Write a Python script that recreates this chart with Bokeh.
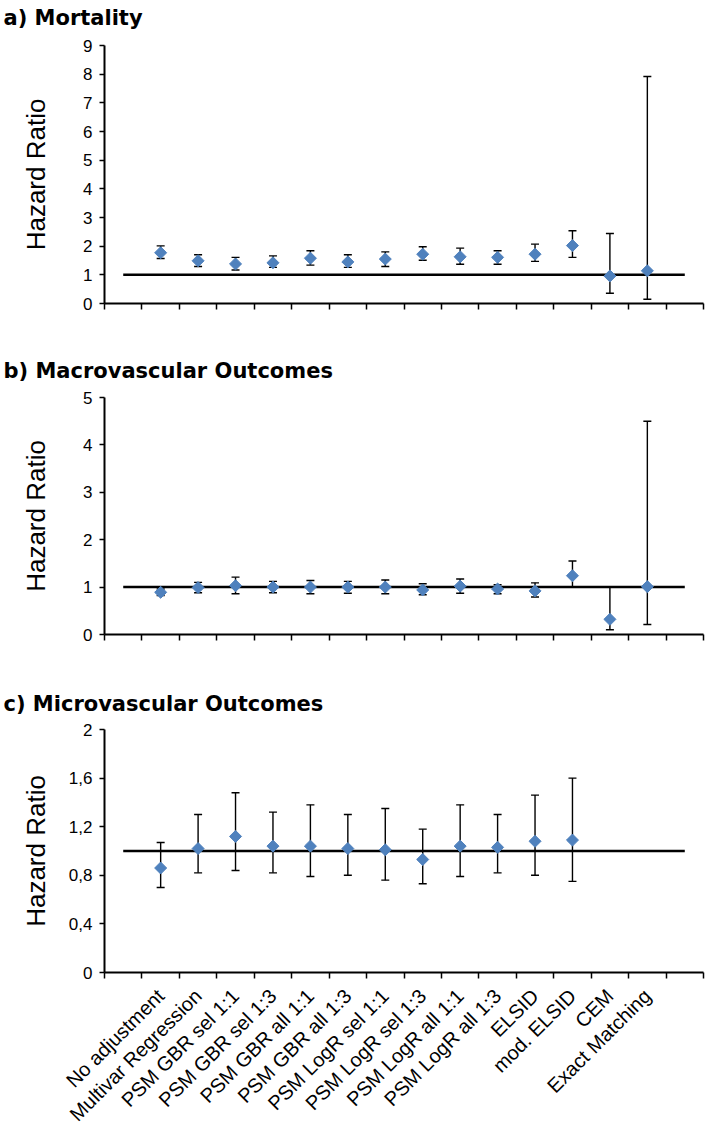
import numpy as np
from bokeh.plotting import figure
from bokeh.models import ColumnDataSource, Whisker, TeeHead, FixedTicker, Range1d, Title
from bokeh.layouts import column
from bokeh.embed import file_html
from bokeh.resources import INLINE

# ---------------- data ----------------
categories = ["No adjustment", "Multivar Regression", "PSM GBR sel 1:1", "PSM GBR sel 1:3",
              "PSM GBR all 1:1", "PSM GBR all 1:3", "PSM LogR sel 1:1", "PSM LogR sel 1:3",
              "PSM LogR all 1:1", "PSM LogR all 1:3", "ELSID", "mod. ELSID", "CEM",
              "Exact Matching"]

mort_hr = [1.77, 1.49, 1.38, 1.42, 1.58, 1.45, 1.55, 1.72, 1.63, 1.61, 1.72, 2.02, 0.96, 1.14]
mort_lo = [1.57, 1.29, 1.17, 1.26, 1.34, 1.26, 1.29, 1.51, 1.37, 1.37, 1.47, 1.61, 0.36, 0.15]
mort_hi = [2.01, 1.70, 1.61, 1.66, 1.84, 1.70, 1.80, 1.98, 1.93, 1.84, 2.07, 2.54, 2.44, 7.92]

macro_hr = [0.89, 0.99, 1.03, 1.00, 1.00, 1.00, 1.00, 0.94, 1.02, 0.96, 0.92, 1.24, 0.32, 1.01]
macro_lo = [0.82, 0.88, 0.86, 0.88, 0.86, 0.87, 0.86, 0.84, 0.87, 0.86, 0.79, 1.01, 0.10, 0.21]
macro_hi = [0.96, 1.10, 1.21, 1.12, 1.14, 1.12, 1.15, 1.07, 1.17, 1.05, 1.09, 1.55, 1.00, 4.50]

micro_hr = [0.86, 1.02, 1.12, 1.04, 1.04, 1.02, 1.01, 0.93, 1.04, 1.03, 1.08, 1.09, None, None]
micro_lo = [0.70, 0.82, 0.84, 0.82, 0.79, 0.80, 0.76, 0.73, 0.79, 0.82, 0.80, 0.75, None, None]
micro_hi = [1.07, 1.30, 1.48, 1.32, 1.38, 1.30, 1.35, 1.18, 1.38, 1.30, 1.46, 1.60, None, None]

mort_ticks = [0, 1, 2, 3, 4, 5, 6, 7, 8, 9]
mort_tick_labels = ["0", "1", "2", "3", "4", "5", "6", "7", "8", "9"]
macro_ticks = [0, 1, 2, 3, 4, 5]
macro_tick_labels = ["0", "1", "2", "3", "4", "5"]
micro_ticks = [0, 0.4, 0.8, 1.2, 1.6, 2]
micro_tick_labels = ["0", "0,4", "0,8", "1,2", "1,6", "2"]

null_hr = 1.0
titles = ["a) Mortality", "b) Macrovascular Outcomes", "c) Microvascular Outcomes"]
y_label = "Hazard Ratio"

# one empty slot before and after the categories (Excel-like layout)
n_slots = len(categories) + 2
slot_pos = list(range(1, n_slots + 1))
cat_pos = slot_pos[1:-1]
boundaries = [s - 0.5 for s in slot_pos] + [slot_pos[-1] + 0.5]

FONT = "Liberation Sans"
TITLE_FONT = "DejaVu Sans"
BLUE = "#4F81BD"
LEFT = 104


def make_panel(title, hr, lo, hi, yticks, ylabels, frame_h, mb_top, mb_bottom,
               title_gap, show_cats, ylab_standoff):
    ymax = yticks[-1]
    p = figure(frame_width=599, frame_height=frame_h, title=None,
               min_border_left=LEFT, min_border_right=2,
               min_border_top=mb_top, min_border_bottom=mb_bottom,
               x_range=Range1d(boundaries[0], boundaries[-1]),
               y_range=Range1d(0, ymax),
               output_backend="svg", toolbar_location=None,
               background_fill_color="white", border_fill_color="white")
    p.outline_line_color = None
    p.grid.visible = False

    # spacer between frame and title, then the title itself
    p.add_layout(Title(text=" ", text_font_size="2px", standoff=title_gap), "above")
    p.add_layout(Title(text=title, align="left", offset=-(LEFT - 3),
                       text_font=TITLE_FONT, text_font_size="21px",
                       text_font_style="bold", text_color="black", standoff=0), "above")

    # y axis
    ya = p.yaxis[0]
    ya.ticker = FixedTicker(ticks=yticks, minor_ticks=[])
    ya.major_label_overrides = {t: l for t, l in zip(yticks, ylabels)}
    ya.axis_line_width = 2
    ya.axis_line_color = "black"
    ya.major_tick_line_width = 1.5
    ya.major_tick_line_color = "black"
    ya.major_tick_out = 5
    ya.major_tick_in = 0
    ya.major_label_standoff = 7
    ya.major_label_text_font = FONT
    ya.major_label_text_font_size = "17px"
    ya.major_label_text_color = "black"
    ya.axis_label = y_label
    ya.axis_label_text_font = FONT
    ya.axis_label_text_font_size = "26px"
    ya.axis_label_text_font_style = "normal"
    ya.axis_label_text_color = "black"
    ya.axis_label_standoff = ylab_standoff

    # x axis
    xa = p.xaxis[0]
    xa.ticker = FixedTicker(ticks=cat_pos if show_cats else [], minor_ticks=boundaries)
    xa.axis_line_width = 2
    xa.axis_line_color = "black"
    xa.major_tick_line_color = None
    xa.major_tick_out = 0
    xa.major_tick_in = 0
    xa.minor_tick_line_color = "black"
    xa.minor_tick_line_width = 1.5
    xa.minor_tick_out = 6
    xa.minor_tick_in = 0
    if show_cats:
        xa.major_label_overrides = {x: c for x, c in zip(cat_pos, categories)}
        xa.major_label_orientation = np.pi / 4
        xa.major_label_standoff = 14
        xa.major_label_text_font = FONT
        xa.major_label_text_font_size = "20px"
        xa.major_label_text_color = "black"

    # reference line at HR = 1 across all slots
    p.line(slot_pos, [null_hr] * len(slot_pos), line_color="black", line_width=2.5)

    xs, ys, los, his = [], [], [], []
    for x, v, l, h in zip(cat_pos, hr, lo, hi):
        if v is None:
            continue
        xs.append(x); ys.append(v); los.append(l); his.append(h)
    src = ColumnDataSource(dict(x=xs, y=ys, lower=los, upper=his))
    w = Whisker(source=src, base="x", lower="lower", upper="upper",
                line_color="black", line_width=1.4,
                upper_head=TeeHead(size=8, line_width=1.4, line_color="black"),
                lower_head=TeeHead(size=8, line_width=1.4, line_color="black"))
    p.add_layout(w)
    p.scatter("x", "y", source=src, marker="square", angle=np.pi / 4, size=8.5,
              fill_color=BLUE, line_color=BLUE)
    return p


pa = make_panel(titles[0], mort_hr, mort_lo, mort_hi, mort_ticks, mort_tick_labels,
                258, 45, 52, 12, False, 29)
pb = make_panel(titles[1], macro_hr, macro_lo, macro_hi, macro_ticks, macro_tick_labels,
                237, 42, 54, 11, False, 29)
pc = make_panel(titles[2], micro_hr, micro_lo, micro_hi, micro_ticks, micro_tick_labels,
                243, 41, 155, 10, True, 15)

layout = column(pa, pb, pc, spacing=0)
open("out.html", "w").write(file_html(layout, INLINE))
